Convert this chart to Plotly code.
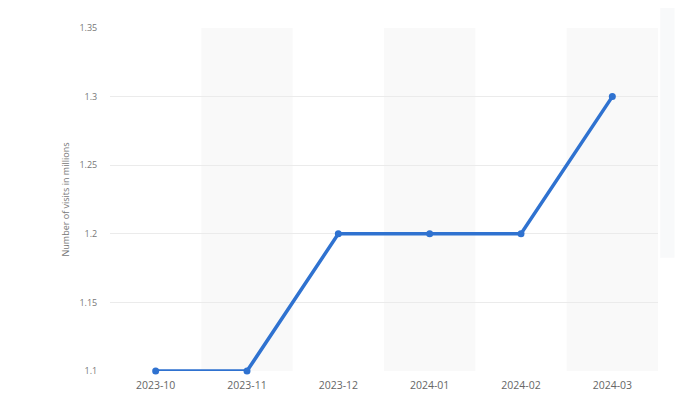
import plotly.graph_objs as go

months = ['2023-10', '2023-11', '2023-12', '2024-01', '2024-02', '2024-03']
visits = [1.1, 1.1, 1.2, 1.2, 1.2, 1.3]
y_ticks = [1.1, 1.15, 1.2, 1.25, 1.3, 1.35]

fig = go.Figure()

fig.add_trace(go.Scatter(x=list(range(len(months))), y=visits, mode='lines+markers',
                         line=dict(color='#2f72d0', width=3.5),
                         marker=dict(color='#2f72d0', size=7),
                         cliponaxis=False, name='visits'))

# alternate shaded columns
for i in range(1, len(months), 2):
    fig.add_shape(type='rect', xref='x', yref='paper', x0=i - 0.5, x1=i + 0.5, y0=0, y1=1,
                  fillcolor='#f9f9f9', line_width=0, layer='below')

# faint panel shadow at the right edge
fig.add_shape(type='rect', xref='paper', yref='paper', x0=1.004, x1=1.03, y0=0.33, y1=1.1,
              fillcolor='#f5f6f8', line_width=0, opacity=0.7)

fig.update_layout(
    width=700, height=400,
    margin=dict(l=102, r=50, t=20, b=37),
    plot_bgcolor='white', paper_bgcolor='white',
    showlegend=False,
    font=dict(family='Open Sans', size=10, color='#666666'),
)
fig.update_xaxes(tickvals=list(range(len(months))), ticktext=months, range=[-0.5, 5.5],
                 showgrid=False, zeroline=False, showline=False,
                 ticks='outside', ticklen=4, tickcolor='rgba(0,0,0,0)',
                 tickfont=dict(size=10.5, color='#666666'))
fig.update_yaxes(range=[1.1, 1.35], tickvals=y_ticks, ticktext=[str(v) for v in y_ticks],
                 showgrid=True, gridcolor='#ebebeb', gridwidth=1, zeroline=False,
                 ticks='outside', ticklen=10, tickcolor='rgba(0,0,0,0)',
                 tickfont=dict(size=9, color='#777777'),
                 title=dict(text='Number of visits in millions', font=dict(size=9, color='#777777'),
                            standoff=8))

fig.write_html("out.html")
